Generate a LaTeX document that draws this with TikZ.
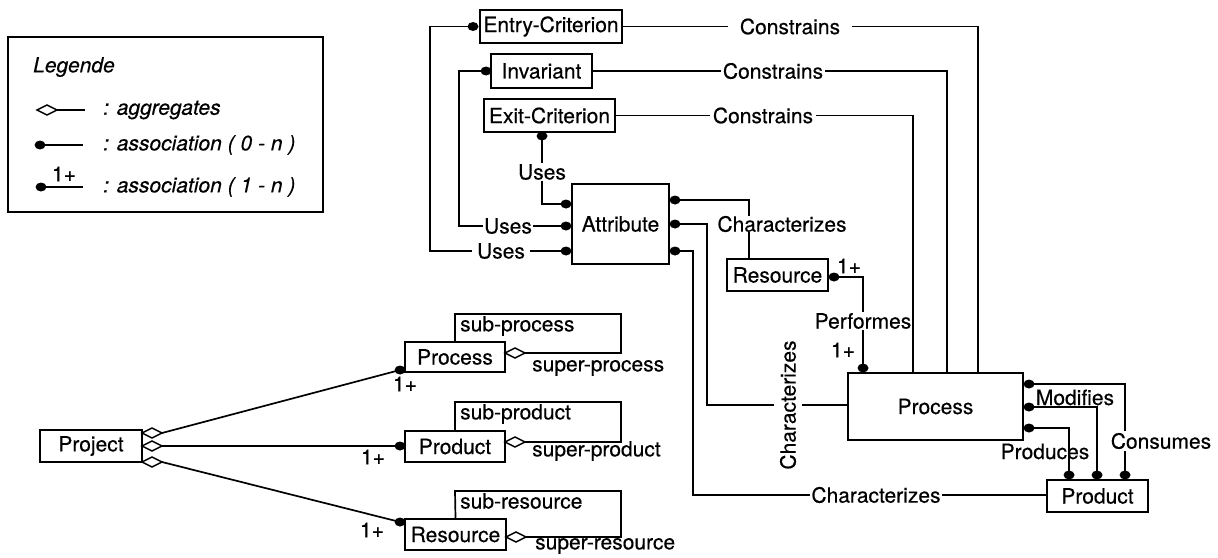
\documentclass[tikz,border=0pt]{standalone}
\usepackage{fontspec}
\setmainfont{TeX Gyre Heros}[FakeBold=0.4]
\begin{document}
\begin{tikzpicture}[x=1pt,y=-1pt,
  font=\fontsize{21}{24}\selectfont,
  box/.style={draw, line width=1.7pt, inner sep=0pt, anchor=center},
  ln/.style={line width=1.7pt},
  lbl/.style={inner sep=1pt, fill=white},
  lblt/.style={inner sep=0pt},
  aggr/.pic={\draw[line width=1.5pt,fill=white] (0,0) -- (10,-5) -- (20,0) -- (10,5) -- cycle;},
]
\useasboundingbox (0,0) rectangle (1218,557);

% ---------- Legend ----------
\node[box, minimum width=315pt, minimum height=175pt] (legend) at (165.5,124.5) {};
\node[lblt, anchor=west] (legtitle) at (33,67) {\itshape Legende};
\pic at (37,110) {aggr};
\coordinate (lg1a) at (57,110); \coordinate (lg1b) at (85,110);
\draw[ln] (lg1a) -- (lg1b);
\node[lblt, anchor=west] (legt1) at (103,110) {\itshape : aggregates};
\coordinate (lg2a) at (40,145); \coordinate (lg2b) at (83,145);
\fill (lg2a) ellipse (5.5 and 4.5);
\draw[ln] (lg2a) -- (lg2b);
\node[lblt, anchor=west] (legt2) at (103,145) {\itshape : association ( 0 - n )};
\coordinate (lg3a) at (41,187); \coordinate (lg3b) at (83,187);
\fill (lg3a) ellipse (5.5 and 4.5);
\draw[ln] (lg3a) -- (lg3b);
\node[lblt] (leg1p) at (64,174) {1+};
\node[lblt, anchor=west] (legt3) at (103,187) {\itshape : association ( 1 - n )};

% ---------- Boxes ----------
\node[box, minimum width=142pt, minimum height=33pt] (entry) at (551,26.5) {Entry-Criterion};
\node[box, minimum width=101pt, minimum height=34pt] (inv) at (541.5,71) {Invariant};
\node[box, minimum width=131pt, minimum height=33pt] (exit) at (549.5,115.5) {Exit-Criterion};
\node[box, minimum width=97pt, minimum height=80pt] (attr) at (620.5,224) {Attribute};
\node[box, minimum width=101pt, minimum height=32pt] (resU) at (777.5,275) {Resource};
\node[box, minimum width=175pt, minimum height=67pt] (procB) at (935.5,406.5) {Process};
\node[box, minimum width=101pt, minimum height=32pt] (prodR) at (1097.5,496) {Product};
\node[box, minimum width=102pt, minimum height=32pt] (project) at (91,446) {Project};
\node[box, minimum width=100pt, minimum height=30pt] (procS) at (455,357) {Process};
\node[box, minimum width=100pt, minimum height=31pt] (prodS) at (455,446.5) {Product};
\node[box, minimum width=101pt, minimum height=31pt] (resS) at (455.5,534.5) {Resource};

% ---------- dot coordinates ----------
\coordinate (e1) at (473,26.5);
\coordinate (i1) at (486,71);
\coordinate (x1) at (542,136);
\coordinate (a1) at (566,204);
\coordinate (a2) at (566,226);
\coordinate (a3) at (566,251);
\coordinate (b1) at (675,200);
\coordinate (b2) at (675,224);
\coordinate (b3) at (675,251);
\coordinate (rd) at (834,277);
\coordinate (pd) at (863,368);
\coordinate (q1) at (1029,384);
\coordinate (q2) at (1029,407);
\coordinate (q3) at (1029,428);
\coordinate (s1) at (1069,475);
\coordinate (s2) at (1097,475);
\coordinate (s3) at (1125,475);
\coordinate (ps) at (400,370);
\coordinate (pp) at (400,446);
\coordinate (pr) at (400,522);

% ---------- Uses ----------
\draw[ln] (e1) -| (430,251) -- (a3);
\node[lbl, inner xsep=5pt] (uses3) at (501,251) {Uses};
\draw[ln] (i1) -| (459,226) -- (a2);
\node[lbl] (uses2) at (508,226) {Uses};
\draw[ln] (x1) |- (a1);
\node[lbl] (uses1) at (542,172) {Uses};

% ---------- Constrains ----------
\draw[ln] (entry.east) -| (procB.north -| 978,0);
\node[lbl, inner xsep=12pt] (con1) at (790,26.5) {Constrains};
\draw[ln] (inv.east) -| (procB.north -| 947,0);
\node[lbl, inner xsep=2pt] (con2) at (773,71) {Constrains};
\draw[ln] (exit.east) -| (procB.north -| 913,0);
\node[lbl, inner xsep=3pt] (con3) at (763,115.5) {Constrains};

% ---------- Characterizes ----------
\draw[ln] (b1) -| (resU.north -| 749,0);
\node[lbl, inner sep=0pt] (ch1) at (782,224) {Characterizes};
\draw[ln] (b2) -| (707,405) -- (procB.west |- 0,405);
\node[lbl, rotate=90, inner xsep=1pt, inner ysep=6pt] (ch2) at (788,405) {Characterizes};
\draw[ln] (b3) -| (693,495) -- (prodR.west |- 0,495);
\node[lbl, inner xsep=1pt] (ch3) at (876,495) {Characterizes};

% ---------- Performes ----------
\draw[ln] (rd) -| (pd);
\node[lblt] (one1) at (849,266) {1+};
\node[lbl] (perf) at (863,321) {Performes};
\node[lblt] (one2) at (843,350) {1+};

% ---------- Process -> Product ----------
\draw[ln] (q1) -| (s3);
\node[lbl, inner xsep=0pt, inner ysep=2pt] (cons) at (1161,441) {Consumes};
\draw[ln] (q2) -| (s2);
\node[lblt, anchor=base] (modi) at (1075,405) {Modifies};
\draw[ln] (q3) -| (s1);
\node[lblt, anchor=base] (prod) at (1045,459) {Produces};

% ---------- Project aggregation ----------
\coordinate (pj1) at (162,433);
\coordinate (pj2) at (162,446);
\coordinate (pj3) at (162,462);
\draw[ln] (pj1) -- (ps);
\draw[ln] (pj2) -- (pp);
\draw[ln] (pj3) -- (pr);
\pic at (142,433) {aggr};
\pic at (142,446) {aggr};
\pic at (142,462) {aggr};
\node[lblt] (one3) at (405,384) {1+};
\node[lblt] (one4) at (373,457) {1+};
\node[lblt] (one5) at (372,530) {1+};

% ---------- self loops ----------
\draw[ln] (525,353) -- (621,353) -- (621,314) -- (455,314) -- (procS.north);
\pic at (505,353) {aggr};
\node[lblt, anchor=west] (subproc) at (460,326) {sub-process};
\node[lblt, anchor=west] (supproc) at (532,368) {super-process};

\draw[ln] (525,442) -- (621,442) -- (621,402) -- (455,402) -- (prodS.north);
\pic at (505,442) {aggr};
\node[lblt, anchor=west] (subprod) at (460,414) {sub-product};
\node[lblt, anchor=west] (supprod) at (532,451) {super-product};

\draw[ln] (526,537) -- (621,537) -- (621,491) -- (455,491) -- (resS.north);
\pic at (506,537) {aggr};
\node[lblt, anchor=west] (subres) at (460,501) {sub-resource};
\node[lblt, anchor=west] (supres) at (535,546) {super-resource};

% ---------- dots ----------
\foreach \c in {e1,i1,x1,a1,a2,a3,b1,b2,b3,rd,pd,q1,q2,q3,s1,s2,s3,ps,pp,pr}
  \fill (\c) ellipse (5.5 and 4.5);
\end{tikzpicture}
\end{document}
